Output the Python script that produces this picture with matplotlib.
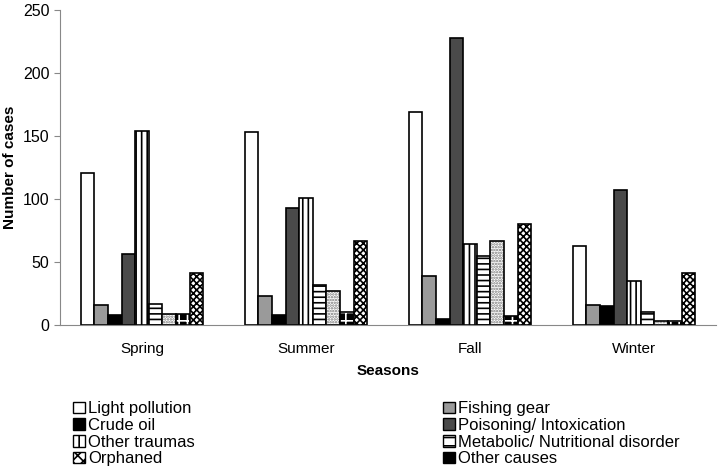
import numpy as np
import matplotlib.pyplot as plt
from matplotlib.patches import Patch

plt.rcParams['font.family'] = ['Liberation Sans', 'DejaVu Sans']
plt.rcParams['hatch.linewidth'] = 1.2

seasons = ["Spring", "Summer", "Fall", "Winter"]

light_pollution = [121, 153, 169, 63]
fishing_gear = [16, 23, 39, 16]
crude_oil = [8, 8, 5, 15]
poisoning = [56, 93, 228, 107]
other_traumas = [154, 101, 64, 35]
metabolic = [17, 32, 55, 10]
unlabeled = [9, 27, 67, 3]
other_causes = [9, 10, 7, 3]
orphaned = [41, 67, 80, 41]

# (values, face, hatch, hatch colour)
series = [
    (light_pollution, "white", None, "black"),
    (fishing_gear, "#9a9a9a", None, "black"),
    (crude_oil, "black", None, "black"),
    (poisoning, "#4a4a4a", None, "black"),
    (other_traumas, "white", "|||", "black"),
    (metabolic, "white", "---", "black"),
    (unlabeled, "white", "......", "#777777"),
    (other_causes, "black", "++", "white"),
    (orphaned, "white", "xxxxx", "black"),
]

fig = plt.figure(figsize=(7.18, 4.74), dpi=100)
ax = fig.add_axes([60 / 718, 149 / 474, 656 / 718, 315 / 474])

x = np.arange(len(seasons))
n = len(series)
w = 0.083
for i, (vals, face, hatch, hc) in enumerate(series):
    pos = x + (i - (n - 1) / 2) * w
    if hatch:
        ax.bar(pos, vals, w, color=face, edgecolor=hc, hatch=hatch, linewidth=0)
        ax.bar(pos, vals, w, fill=False, edgecolor="black", linewidth=1.2)
    else:
        ax.bar(pos, vals, w, color=face, edgecolor="black", linewidth=1.2)

ax.set_xlim(-0.5, 3.5)
ax.set_ylim(0, 250)
ax.set_yticks(range(0, 251, 50))
ax.set_xticks(x)
ax.set_xticklabels(seasons, fontsize=11)
ax.tick_params(axis="y", labelsize=11.5, length=4, color="#888888")
ax.tick_params(axis="x", length=0, pad=12)
for s in ["top", "right"]:
    ax.spines[s].set_visible(False)
for s in ["left", "bottom"]:
    ax.spines[s].set_color("#888888")
ax.set_ylabel("Number of cases", fontsize=11, fontweight="bold")
ax.set_xlabel("Seasons", fontsize=11, fontweight="bold", labelpad=6)


def patch(face, hatch=None):
    return Patch(facecolor=face, edgecolor="black", hatch=hatch, linewidth=1)


left = [("Light pollution", patch("white")),
        ("Crude oil", patch("black")),
        ("Other traumas", patch("white", "||")),
        ("Orphaned", patch("white", "xxx"))]
right = [("Fishing gear", patch("#9a9a9a")),
         ("Poisoning/ Intoxication", patch("#4a4a4a")),
         ("Metabolic/ Nutritional disorder", patch("white", "--")),
         ("Other causes", patch("black"))]

for items, xpos in [(left, 65 / 718), (right, 435 / 718)]:
    fig.legend([h for _, h in items], [l for l, _ in items],
               loc="upper left", bbox_to_anchor=(xpos, 81 / 474),
               frameon=False, fontsize=12, handlelength=0.7, handleheight=0.7,
               handletextpad=0.2, labelspacing=0.1, borderpad=0)

fig.savefig("out.png", dpi=100)
